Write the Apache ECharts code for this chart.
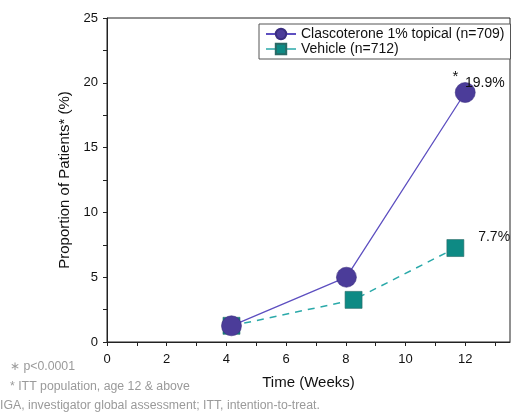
<!DOCTYPE html>
<html><head><meta charset="utf-8">
<script src="https://cdn.jsdelivr.net/npm/echarts@6/dist/echarts.min.js"></script>
<style>html,body{margin:0;padding:0;background:#fff}#c{width:514px;height:414px}</style>
</head><body><div id="c"></div>
<script>
const clascoWeeks = [4.17, 8.02, 12.0];
const clascoValues = [1.25, 5.0, 19.25];
const vehicleWeeks = [4.17, 8.26, 11.67];
const vehicleValues = [1.25, 3.25, 7.25];
const clascoName = 'Clascoterone 1% topical (n=709)';
const vehicleName = 'Vehicle (n=712)';
const clascoEndLabel = '19.9%';
const vehicleEndLabel = '7.7%';
const xTicks = [0, 2, 4, 6, 8, 10, 12];
const yTicks = [0, 5, 10, 15, 20, 25];
const footnotes = ['∗ p<0.0001', '* ITT population, age 12 & above', 'IGA, investigator global assessment; ITT, intention-to-treat.'];

const FONT = 'Liberation Sans, Arial, sans-serif';
const chart = echarts.init(document.getElementById('c'), null, {renderer: 'canvas'});

const cData = clascoWeeks.map((w, i) => {
  const d = {value: [w, clascoValues[i]]};
  if (i === clascoWeeks.length - 1) {
    d.label = {show: true, position: 'right', offset: [-28, -9],
      formatter: '{s|*}  {v|' + clascoEndLabel + '}',
      rich: {s: {fontSize: 15, color: '#111', fontFamily: FONT, padding: [0, 0, 13, 0]},
             v: {fontSize: 14, color: '#111', fontFamily: FONT}}};
  }
  return d;
});
const vData = vehicleWeeks.map((w, i) => {
  const d = {value: [w, vehicleValues[i]]};
  if (i === vehicleWeeks.length - 1) {
    d.label = {show: true, position: 'right', offset: [9, -11], formatter: vehicleEndLabel,
      fontSize: 14, color: '#111', fontFamily: FONT};
  }
  return d;
});

chart.setOption({
  animation: false,
  textStyle: {fontFamily: FONT},
  grid: {left: 107, top: 18, right: 4, bottom: 72, show: true, borderColor: '#222', borderWidth: 1},
  legend: {
    orient: 'vertical', left: 259, top: 24, width: 244,
    padding: [3, 6, 3, 6], itemGap: 1, itemWidth: 30, itemHeight: 13,
    borderColor: '#555', borderWidth: 1, backgroundColor: '#fff',
    textStyle: {fontSize: 14, color: '#111', fontFamily: FONT},
    data: [
      {name: clascoName},
      {name: vehicleName, lineStyle: {type: 'solid', width: 1.5, color: '#2aa9a9'}}
    ]
  },
  xAxis: {
    type: 'value', min: 0, max: 13.5, interval: 1,
    name: 'Time (Weeks)', nameLocation: 'middle', nameGap: 33,
    nameTextStyle: {fontSize: 15, color: '#111', fontFamily: FONT},
    axisLine: {onZero: false, lineStyle: {color: '#222', width: 1}},
    axisTick: {show: true, length: 4, lineStyle: {color: '#222'}},
    axisLabel: {fontSize: 13, color: '#111', margin: 11,
      formatter: v => xTicks.includes(v) ? String(v) : '', showMaxLabel: false},
    splitLine: {show: false}
  },
  yAxis: {
    type: 'value', min: 0, max: 25, interval: 5,
    name: 'Proportion of Patients* (%)', nameLocation: 'middle', nameGap: 26,
    nameTextStyle: {fontSize: 15, color: '#111', fontFamily: FONT},
    axisLine: {lineStyle: {color: '#222', width: 1}},
    axisTick: {show: true, length: 4, lineStyle: {color: '#222'}},
    minorTick: {show: true, splitNumber: 2, length: 4, lineStyle: {color: '#222'}},
    axisLabel: {fontSize: 13, color: '#111', margin: 9, formatter: v => yTicks.includes(v) ? String(v) : ''},
    splitLine: {show: false}
  },
  series: [
    {
      name: vehicleName, type: 'line', z: 2,
      data: vData, symbol: 'rect', symbolSize: 17,
      itemStyle: {color: '#0e8a84', borderColor: '#2a6a66', borderWidth: 0.6},
      lineStyle: {color: '#2aa9a9', width: 1.5, type: [7, 6]}
    },
    {
      name: clascoName, type: 'line', z: 3,
      data: cData, symbol: 'circle', symbolSize: 20,
      itemStyle: {color: '#4b3c99', borderColor: '#3a2d80', borderWidth: 0.6},
      lineStyle: {color: '#5d4fc0', width: 1.3}
    }
  ],
  graphic: footnotes.map((t, i) => ({
    type: 'text', left: i < 2 ? 10 : 0, top: [361, 381, 400][i],
    style: {text: t, fontSize: 12.3, fill: '#9a9a9a', fontFamily: FONT}
  }))
});
</script></body></html>
